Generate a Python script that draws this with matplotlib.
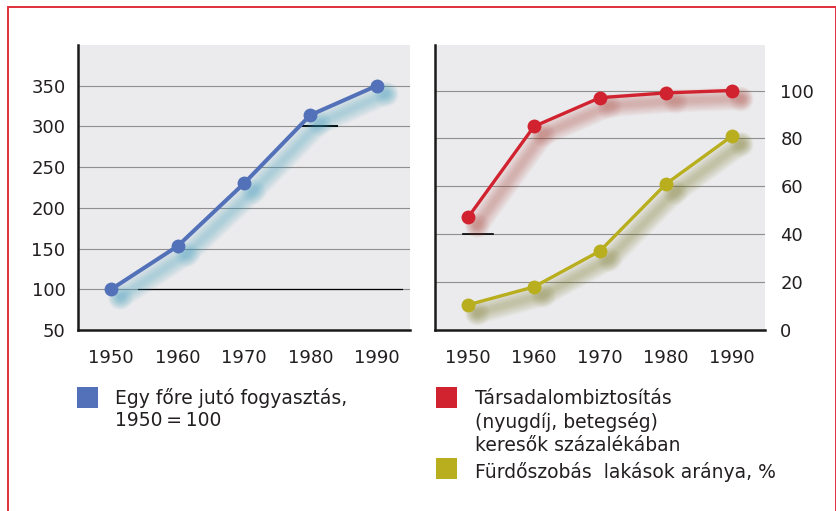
import matplotlib
matplotlib.use("Agg")
import numpy as np
from matplotlib import pyplot as plt
from matplotlib import transforms
from matplotlib.patches import Rectangle

years = [1950, 1960, 1970, 1980, 1990]
consumption = [100, 153, 230, 314, 350]
social_insurance = [47, 85, 97, 99, 100]
bathroom_share = [10.5, 18, 33, 61, 81]

left_ticks = [50, 100, 150, 200, 250, 300, 350]
right_ticks = [0, 20, 40, 60, 80, 100]

legend_left = ["Egy főre jutó fogyasztás,", "1950\u2009=\u2009100"]
legend_red = ["Társadalombiztosítás", "(nyugdíj, betegség)", "keresők százalékában"]
legend_yellow = ["Fürdőszobás  lakások aránya, %"]

BLUE = "#5271b8"
BLUE_SHADOW = "#3aa0c0"
RED = "#d1232f"
RED_SHADOW = "#b0453a"
OLIVE = "#b8ae1e"
OLIVE_SHADOW = "#7a7820"
PANEL_BG = "#ebebed"
GRID = "#8f8f8f"
TEXT = "#231f20"

W, H = 837, 511
fig = plt.figure(figsize=(W / 100, H / 100), dpi=100)
fig.patch.set_facecolor("white")


def px_box(x0, y0, x1, y1):
    """Pixel box (top-left origin) -> figure fraction rect."""
    return [x0 / W, 1 - y1 / H, (x1 - x0) / W, (y1 - y0) / H]


def draw_shadow(ax, x, y, color):
    # soft offset copy, built from many faint strokes
    shift = transforms.ScaledTranslation(0.09, -0.08, fig.dpi_scale_trans)
    trans = ax.transData + shift
    for lw in np.linspace(17, 3, 12):
        ax.plot(x, y, color=color, lw=lw, alpha=0.03, transform=trans,
                solid_capstyle="round", solid_joinstyle="round", zorder=2)
    for ms in np.linspace(18, 6, 8):
        ax.plot(x, y, "o", color=color, ms=ms, alpha=0.03, mec="none",
                transform=trans, zorder=2)


def style_panel(ax, ylim, ticks):
    ax.set_facecolor(PANEL_BG)
    ax.set_xlim(1945, 1995)
    ax.set_ylim(*ylim)
    for side in ("top", "right"):
        ax.spines[side].set_visible(False)
    for side in ("left", "bottom"):
        ax.spines[side].set_color("#1a1a1a")
        ax.spines[side].set_linewidth(1.8)
    ax.set_xticks(years)
    ax.set_xticklabels([str(y) for y in years])
    ax.set_yticks(ticks)
    ax.tick_params(axis="both", length=0, labelsize=13, colors=TEXT)
    ax.tick_params(axis="x", pad=14)
    for t in ticks[1:]:
        ax.axhline(t, color=GRID, lw=0.8, zorder=1)


# left panel
ax1 = fig.add_axes(px_box(78, 45, 410, 330))
style_panel(ax1, (50, 400), left_ticks)
ax1.tick_params(axis="y", pad=9)
ax1.axhline(100, xmin=0.18, xmax=0.976, color="black", lw=0.9, zorder=1)
ax1.axhline(300, xmin=0.67, xmax=0.78, color="black", lw=1.4, zorder=1)
draw_shadow(ax1, years, consumption, BLUE_SHADOW)
ax1.plot(years, consumption, color=BLUE, lw=2.9, marker="o", ms=10,
         mec="none", zorder=4)

# right panel
ax2 = fig.add_axes(px_box(435, 45, 765, 330))
style_panel(ax2, (0, 119), right_ticks)
ax2.yaxis.tick_right()
ax2.tick_params(axis="y", pad=11)
ax2.axhline(40, xmin=0.085, xmax=0.175, color="black", lw=1.2, zorder=1)
draw_shadow(ax2, years, social_insurance, RED_SHADOW)
draw_shadow(ax2, years, bathroom_share, OLIVE_SHADOW)
ax2.plot(years, social_insurance, color=RED, lw=2.4, marker="o", ms=10,
         mec="none", zorder=4)
ax2.plot(years, bathroom_share, color=OLIVE, lw=2.4, marker="o", ms=10,
         mec="none", zorder=4)

# red frame
fig.patches.append(Rectangle((8 / W, -0.02), (836 - 8) / W, 1 - 7 / H + 0.02,
                             transform=fig.transFigure, fill=False,
                             edgecolor="#e0303c", lw=1.4))

# legend
legend_font = dict(family=["DejaVu Sans"], fontsize=13.5,
                   color=TEXT, va="center", ha="left")


def legend_entry(x_sq, y_sq, color, lines, x_text, y_first, step):
    fig.patches.append(Rectangle((x_sq / W, 1 - (y_sq + 21) / H), 21 / W, 21 / H,
                                 transform=fig.transFigure, color=color, lw=0))
    for i, line in enumerate(lines):
        fig.text(x_text / W, 1 - (y_first + i * step) / H, line, **legend_font)


legend_entry(77, 387, BLUE, legend_left, 115, 398, 22)
legend_entry(436, 387, RED, legend_red, 475, 398, 23.5)
legend_entry(436, 458, OLIVE, legend_yellow, 475, 472, 23)

fig.savefig("out.png", dpi=100)
